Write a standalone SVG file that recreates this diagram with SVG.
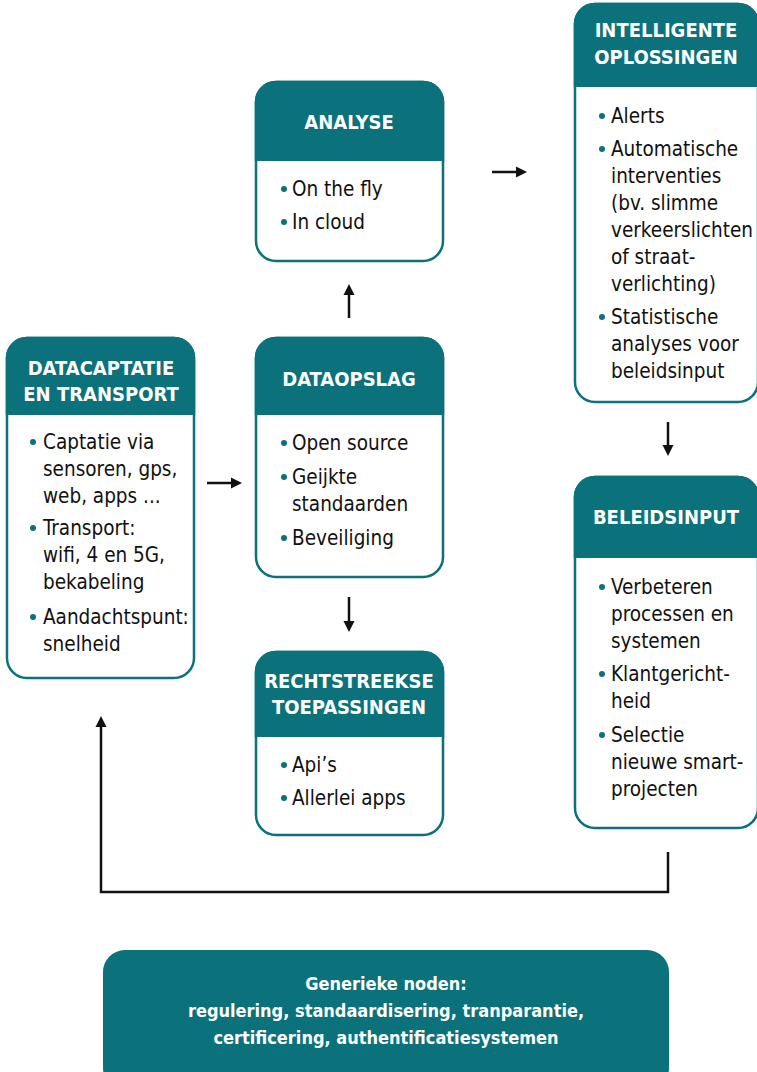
<svg xmlns="http://www.w3.org/2000/svg" width="757" height="1072" viewBox="0 0 757 1072">
<defs>
<marker id="ah" markerWidth="12" markerHeight="12" refX="1" refY="6" orient="auto" markerUnits="userSpaceOnUse">
<path d="M0,0.5 L11,6 L0,11.5 Z" fill="#111"/>
</marker>
<style>
.box{fill:#fff;stroke:#0b717a;stroke-width:2.5}
.hdr{fill:#0b717a}
.t{font-family:"DejaVu Sans Condensed","Liberation Sans Narrow","DejaVu Sans",sans-serif;font-weight:bold;font-size:20px;fill:#fff;text-anchor:middle}
.b{font-family:"DejaVu Sans Condensed","Liberation Sans Narrow","DejaVu Sans",sans-serif;font-size:20.5px;fill:#111}
.dot{fill:#0b717a}
.c{stroke:#111;stroke-width:2.5;fill:none}
.g{font-family:"DejaVu Sans Condensed","Liberation Sans Narrow","DejaVu Sans",sans-serif;font-weight:bold;font-size:18px;fill:#fff;text-anchor:middle}
</style>
</defs>
<rect width="757" height="1072" fill="#fff"/>

<g id="connectors">
<line class="c" x1="207" y1="483" x2="232" y2="483" marker-end="url(#ah)"/>
<line class="c" x1="349" y1="318" x2="349" y2="294" marker-end="url(#ah)"/>
<line class="c" x1="349" y1="597" x2="349" y2="622" marker-end="url(#ah)"/>
<line class="c" x1="492" y1="172" x2="517" y2="172" marker-end="url(#ah)"/>
<line class="c" x1="668" y1="422" x2="668" y2="446" marker-end="url(#ah)"/>
<polyline class="c" points="668,852 668,892 101,892 101,726" marker-end="url(#ah)"/>
</g>

<g id="node-datacaptatie">
<rect class="box" x="7" y="338" width="187" height="340" rx="20"/>
<path class="hdr" d="M5.75,415 V358 A21.25,21.25 0 0 1 27,336.75 H174 A21.25,21.25 0 0 1 195.25,358 V415 Z"/>
<text class="t" x="101" y="375">DATACAPTATIE</text>
<text class="t" x="101" y="401">EN TRANSPORT</text>
<circle class="dot" cx="33" cy="442" r="3"/>
<text class="b" x="43" y="449">Captatie via</text>
<text class="b" x="43" y="476">sensoren, gps,</text>
<text class="b" x="43" y="503">web, apps ...</text>
<circle class="dot" cx="33" cy="528" r="3"/>
<text class="b" x="43" y="535">Transport:</text>
<text class="b" x="43" y="562">wifi, 4 en 5G,</text>
<text class="b" x="43" y="589">bekabeling</text>
<circle class="dot" cx="33" cy="617" r="3"/>
<text class="b" x="43" y="624">Aandachtspunt:</text>
<text class="b" x="43" y="651">snelheid</text>
</g>

<g id="node-analyse">
<rect class="box" x="256" y="82" width="187" height="179" rx="20"/>
<path class="hdr" d="M254.75,161 V102 A21.25,21.25 0 0 1 276,80.75 H423 A21.25,21.25 0 0 1 444.25,102 V161 Z"/>
<text class="t" x="349" y="129">ANALYSE</text>
<circle class="dot" cx="284" cy="189" r="3"/>
<text class="b" x="292" y="196">On the fly</text>
<circle class="dot" cx="284" cy="222" r="3"/>
<text class="b" x="292" y="229">In cloud</text>
</g>

<g id="node-dataopslag">
<rect class="box" x="256" y="338" width="187" height="239" rx="20"/>
<path class="hdr" d="M254.75,415 V358 A21.25,21.25 0 0 1 276,336.75 H423 A21.25,21.25 0 0 1 444.25,358 V415 Z"/>
<text class="t" x="349" y="386">DATAOPSLAG</text>
<circle class="dot" cx="284" cy="443" r="3"/>
<text class="b" x="292" y="450">Open source</text>
<circle class="dot" cx="284" cy="477" r="3"/>
<text class="b" x="292" y="484">Geijkte</text>
<text class="b" x="292" y="511">standaarden</text>
<circle class="dot" cx="284" cy="538" r="3"/>
<text class="b" x="292" y="545">Beveiliging</text>
</g>

<g id="node-rechtstreekse">
<rect class="box" x="256" y="652" width="187" height="183" rx="20"/>
<path class="hdr" d="M254.75,737 V672 A21.25,21.25 0 0 1 276,650.75 H423 A21.25,21.25 0 0 1 444.25,672 V737 Z"/>
<text class="t" x="349" y="688">RECHTSTREEKSE</text>
<text class="t" x="349" y="714">TOEPASSINGEN</text>
<circle class="dot" cx="284" cy="765" r="3"/>
<text class="b" x="292" y="772">Api’s</text>
<circle class="dot" cx="284" cy="798" r="3"/>
<text class="b" x="292" y="805">Allerlei apps</text>
</g>

<g id="node-intelligente">
<rect class="box" x="575" y="4" width="183" height="398" rx="20"/>
<path class="hdr" d="M573.75,87 V24 A21.25,21.25 0 0 1 595,2.75 H738 A21.25,21.25 0 0 1 759.25,24 V87 Z"/>
<text class="t" x="666" y="37">INTELLIGENTE</text>
<text class="t" x="666" y="64">OPLOSSINGEN</text>
<circle class="dot" cx="602" cy="116" r="3"/>
<text class="b" x="611" y="123">Alerts</text>
<circle class="dot" cx="602" cy="149" r="3"/>
<text class="b" x="611" y="156">Automatische</text>
<text class="b" x="611" y="183">interventies</text>
<text class="b" x="611" y="210">(bv. slimme</text>
<text class="b" x="611" y="237">verkeerslichten</text>
<text class="b" x="611" y="264">of straat-</text>
<text class="b" x="611" y="291">verlichting)</text>
<circle class="dot" cx="602" cy="317" r="3"/>
<text class="b" x="611" y="324">Statistische</text>
<text class="b" x="611" y="351">analyses voor</text>
<text class="b" x="611" y="378">beleidsinput</text>
</g>

<g id="node-beleidsinput">
<rect class="box" x="575" y="477" width="183" height="351" rx="20"/>
<path class="hdr" d="M573.75,558 V497 A21.25,21.25 0 0 1 595,475.75 H738 A21.25,21.25 0 0 1 759.25,497 V558 Z"/>
<text class="t" x="666" y="524">BELEIDSINPUT</text>
<circle class="dot" cx="602" cy="587" r="3"/>
<text class="b" x="611" y="594">Verbeteren</text>
<text class="b" x="611" y="621">processen en</text>
<text class="b" x="611" y="648">systemen</text>
<circle class="dot" cx="602" cy="674" r="3"/>
<text class="b" x="611" y="681">Klantgericht-</text>
<text class="b" x="611" y="708">heid</text>
<circle class="dot" cx="602" cy="735" r="3"/>
<text class="b" x="611" y="742">Selectie</text>
<text class="b" x="611" y="769">nieuwe smart-</text>
<text class="b" x="611" y="796">projecten</text>
</g>

<g id="node-generieke">
<rect x="103" y="950" width="566" height="140" rx="22" fill="#0b717a"/>
<text class="g" x="386" y="990">Generieke noden:</text>
<text class="g" x="386" y="1017">regulering, standaardisering, tranparantie,</text>
<text class="g" x="386" y="1044">certificering, authentificatiesystemen</text>
</g>
</svg>
